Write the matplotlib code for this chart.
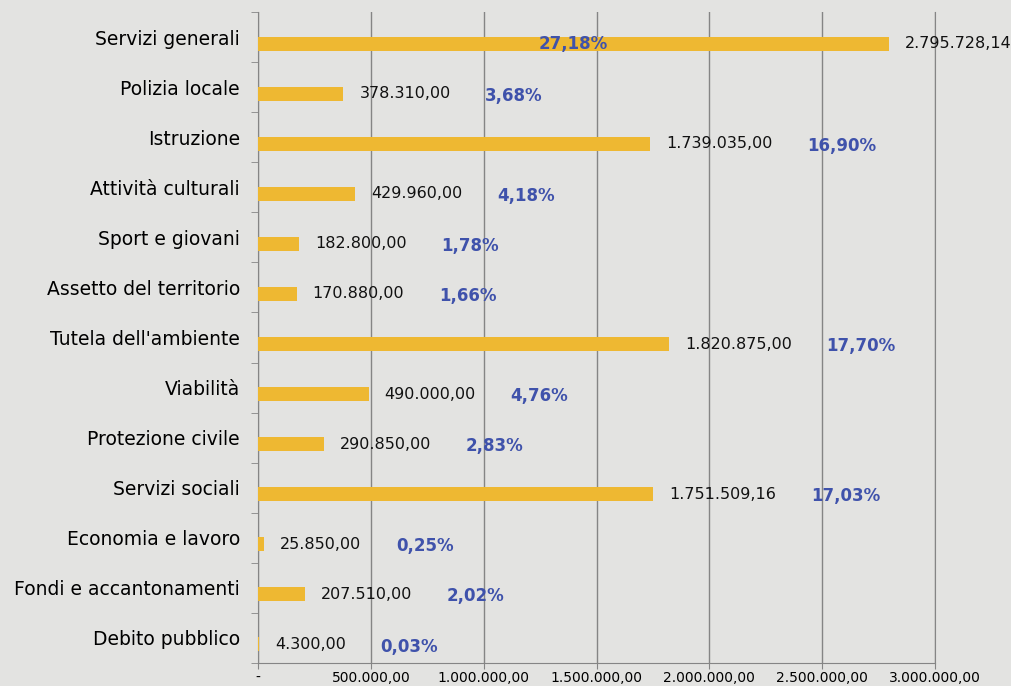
import matplotlib.pyplot as plt
import numpy as np

categories = ["Servizi generali", "Polizia locale", "Istruzione", "Attività culturali",
              "Sport e giovani", "Assetto del territorio", "Tutela dell'ambiente",
              "Viabilità", "Protezione civile", "Servizi sociali", "Economia e lavoro",
              "Fondi e accantonamenti", "Debito pubblico"]
values = [2795728.14, 378310.00, 1739035.00, 429960.00, 182800.00, 170880.00,
          1820875.00, 490000.00, 290850.00, 1751509.16, 25850.00, 207510.00, 4300.00]
percents = [27.18, 3.68, 16.90, 4.18, 1.78, 1.66, 17.70, 4.76, 2.83, 17.03, 0.25, 2.02, 0.03]
xticks = [0, 500000, 1000000, 1500000, 2000000, 2500000, 3000000]

def it_num(v):
    s = "{:,.2f}".format(v)
    return s.replace(',', 'X').replace('.', ',').replace('X', '.')

bg = '#E3E3E1'
bar_col = '#EEB832'
pct_col = '#3F52AB'
grid_col = '#858585'

fig = plt.figure(figsize=(10.12, 6.86), dpi=100)
fig.patch.set_facecolor(bg)
ax = fig.add_axes([258/1012, 1 - 663/686, 677/1012, 651/686])
ax.set_facecolor(bg)

y = np.arange(len(categories))
ax.barh(y + 0.13, values, height=0.28, color=bar_col, zorder=3)

ax.set_xlim(0, 3000000)
ax.set_ylim(len(categories) - 0.5, -0.5)

ax.set_xticks(xticks)
ax.set_xticklabels(['-' if t == 0 else it_num(t) for t in xticks], fontsize=10)
ax.tick_params(axis='x', length=4, color=grid_col, pad=1.5)
ax.xaxis.grid(True, color=grid_col, lw=1, zorder=1)

ax.set_yticks(y)
ax.set_yticklabels(categories, fontsize=13.5)
ax.tick_params(axis='y', length=0, pad=13)
ax.set_yticks(np.arange(-0.5, len(categories), 1), minor=True)
ax.tick_params(axis='y', which='minor', length=5, color=grid_col)

ax.spines['top'].set_visible(False)
for s in ['left', 'bottom', 'right']:
    ax.spines[s].set_color(grid_col)

for i, (v, p) in enumerate(zip(values, percents)):
    yb = i + 0.13
    vt = ax.annotate(it_num(v), xy=(v, yb), xytext=(11.5, 0), textcoords='offset points',
                     ha='left', va='center', fontsize=11.5, color='#111111', zorder=4)
    ptxt = "{:.2f}".format(p).replace('.', ',') + '%'
    if v > 0.9 * xticks[-1]:
        ax.annotate(ptxt, xy=(v / 2, yb), ha='center', va='center', fontsize=12,
                    fontweight='bold', color=pct_col, zorder=5)
    else:
        ax.annotate(ptxt, xy=(1, 0.5), xycoords=vt, xytext=(25, -1.5),
                    textcoords='offset points', ha='left', va='center', fontsize=12,
                    fontweight='bold', color=pct_col, zorder=5)

plt.savefig("out.png", dpi=100, facecolor=bg)
